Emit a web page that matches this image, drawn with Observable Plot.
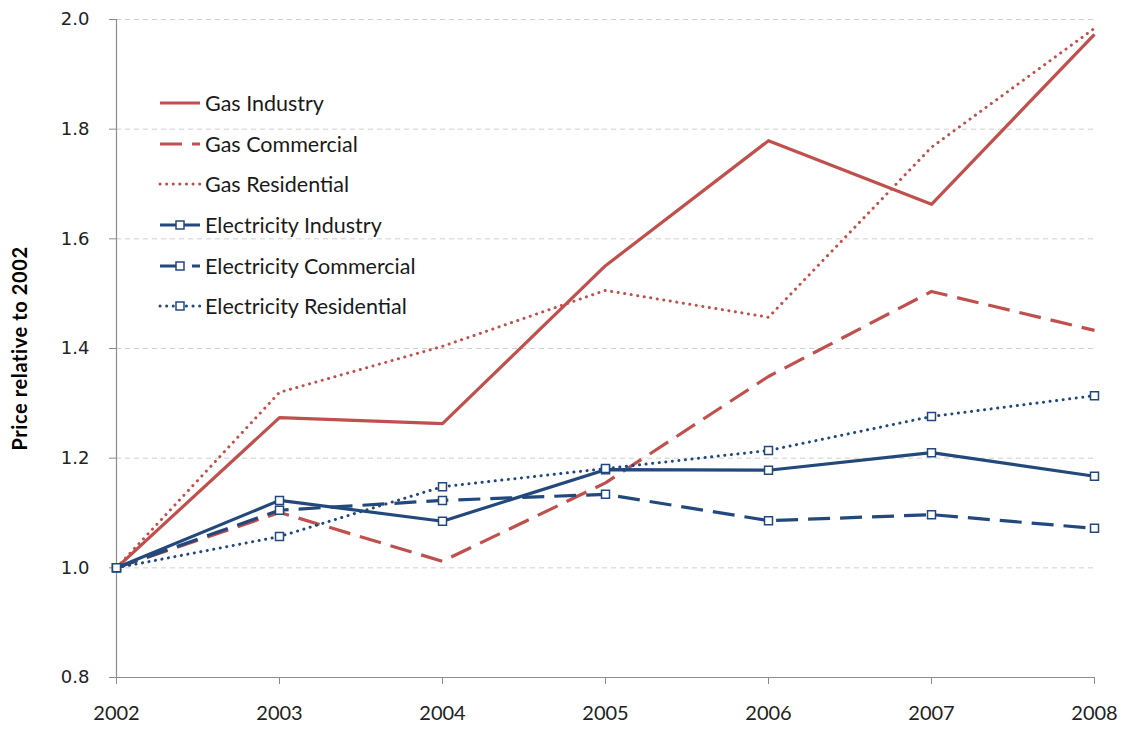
<!DOCTYPE html>
<html>
<head>
<meta charset="utf-8">
<script src="https://cdn.jsdelivr.net/npm/d3@7"></script>
<script src="https://cdn.jsdelivr.net/npm/@observablehq/plot@0.6"></script>
<style>
  body { margin: 0; background: #fff; }
  #wrap { position: relative; width: 1125px; height: 731px; }
  #legend { position: absolute; left: 158px; top: 83px; font-family: Lato, sans-serif; font-size: 21.5px; color: #1a1a1a; }
  #legend .item { display: flex; align-items: center; height: 40.6px; }
  #legend svg { margin-right: 3px; }
  .yt text { font-family: "DejaVu Sans", sans-serif; font-size: 18px; fill: #222; }
  .xt text { font-family: Lato, sans-serif; font-size: 20px; fill: #222; }
  svg [aria-label="y-axis label"] text, svg [aria-label="y-axis label"] { font-family: Lato, sans-serif !important; font-size: 20px !important; letter-spacing: 0.6px; font-weight: bold !important; fill: #000; }
</style>
</head>
<body>
<div id="wrap"><div id="legend"></div></div>
<script>
const years = [2002, 2003, 2004, 2005, 2006, 2007, 2008];
const gasIndustry = [1.0, 1.274, 1.263, 1.551, 1.779, 1.663, 1.973];
const gasCommercial = [1.0, 1.101, 1.012, 1.155, 1.349, 1.504, 1.433];
const gasResidential = [1.0, 1.320, 1.404, 1.506, 1.457, 1.767, 1.984];
const elecIndustry = [1.0, 1.123, 1.085, 1.179, 1.178, 1.210, 1.167];
const elecCommercial = [1.0, 1.105, 1.123, 1.134, 1.086, 1.097, 1.072];
const elecResidential = [1.0, 1.057, 1.148, 1.181, 1.214, 1.276, 1.314];
const yTicks = [0.8, 1.0, 1.2, 1.4, 1.6, 1.8, 2.0];

const RED = "#C0504D", BLUE = "#23497C";
const series = [
  {name: "Gas Industry", values: gasIndustry, color: RED, dash: null, marker: false},
  {name: "Gas Commercial", values: gasCommercial, color: RED, dash: "22 10", marker: false},
  {name: "Gas Residential", values: gasResidential, color: RED, dash: "0.1 6.5", marker: false},
  {name: "Electricity Industry", values: elecIndustry, color: BLUE, dash: null, marker: true},
  {name: "Electricity Commercial", values: elecCommercial, color: BLUE, dash: "22 10", marker: true},
  {name: "Electricity Residential", values: elecResidential, color: BLUE, dash: "0.1 6.5", marker: true}
];
const rows = s => years.map((y, i) => ({year: y, value: s.values[i], series: s.name}));

const marks = [
  Plot.gridY(yTicks.filter(d => d > 0.8), {stroke: "#cfcfcf", strokeOpacity: 1, strokeDasharray: "5 4"}),
  Plot.ruleX([years[0]], {stroke: "#8c8c8c", strokeWidth: 1.2}),
  Plot.ruleY([yTicks[0]], {stroke: "#8c8c8c", strokeWidth: 1.2}),
  Plot.axisY(yTicks, {tickSize: 7, tickPadding: 20, tickFormat: d3.format(".1f"), stroke: "#8c8c8c", className: "yt", label: null}),
  Plot.axisY({label: "Price relative to 2002", labelAnchor: "center", labelArrow: "none", labelOffset: 104, tickSize: 0, tickFormat: () => "", className: "ylab"}),
  Plot.axisX(years, {tickSize: 7, tickPadding: 21, tickFormat: d3.format("d"), stroke: "#8c8c8c", className: "xt", label: null})
];
for (const s of series) {
  const dotted = s.dash && s.dash.startsWith("0.1");
  marks.push(Plot.line(rows(s), {
    x: "year", y: "value", stroke: s.color, strokeWidth: dotted ? 3 : 3.2,
    strokeDasharray: s.dash || undefined, strokeLinecap: dotted ? "round" : "butt",
    strokeLinejoin: "round"
  }));
}
for (const s of series.filter(s => s.marker)) {
  marks.push(Plot.dot(rows(s), {x: "year", y: "value", symbol: "square", r: 4.5, fill: "white", stroke: s.color, strokeWidth: 1.5}));
}

const chart = Plot.plot({
  width: 1125, height: 731,
  marginLeft: 116, marginRight: 31, marginTop: 19, marginBottom: 54,
  x: {type: "linear", domain: [years[0], years[years.length - 1]]},
  y: {domain: [yTicks[0], yTicks[yTicks.length - 1]]},
  style: {background: "white", overflow: "visible"},
  marks
});
const wrap = document.getElementById("wrap");
wrap.insertBefore(chart, wrap.firstChild);

// legend
const legend = document.getElementById("legend");
for (const s of series) {
  const item = document.createElement("div");
  item.className = "item";
  const dotted = s.dash && s.dash.startsWith("0.1");
  let svg = `<svg width="44" height="12"><line x1="2" x2="42" y1="6" y2="6" stroke="${s.color}" stroke-width="${dotted ? 3 : 3.2}"` +
    (s.dash ? ` stroke-dasharray="${s.dash}"` : "") + (dotted ? ` stroke-linecap="round"` : "") + `/>`;
  if (s.marker) svg += `<rect x="18" y="2" width="8" height="8" fill="white" stroke="${s.color}" stroke-width="1.5"/>`;
  svg += `</svg>`;
  item.innerHTML = svg + `<span>${s.name}</span>`;
  legend.appendChild(item);
}
</script>
</body>
</html>
